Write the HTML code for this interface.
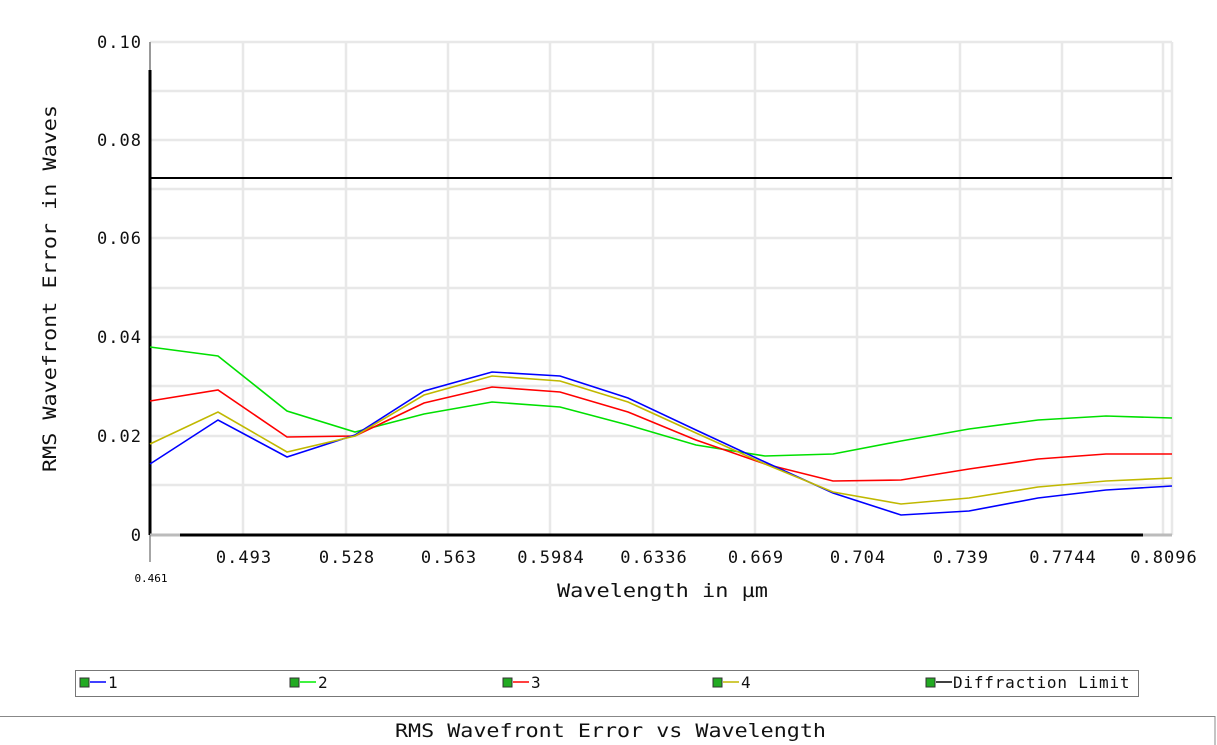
<!DOCTYPE html><html><head><style>body{margin:0;background:#fff}svg{display:block}text{font-family:"DejaVu Sans Mono","Liberation Mono",monospace}</style></head><body>
<svg width="1217" height="745" xmlns="http://www.w3.org/2000/svg">
<g stroke="#e8e8e8" stroke-width="2.5">
<line x1="150" y1="42" x2="1172" y2="42"/><line x1="150" y1="91" x2="1172" y2="91"/><line x1="150" y1="140" x2="1172" y2="140"/><line x1="150" y1="189" x2="1172" y2="189"/><line x1="150" y1="238" x2="1172" y2="238"/><line x1="150" y1="288" x2="1172" y2="288"/><line x1="150" y1="337" x2="1172" y2="337"/><line x1="150" y1="386" x2="1172" y2="386"/><line x1="150" y1="436" x2="1172" y2="436"/><line x1="150" y1="485" x2="1172" y2="485"/>
<line x1="243" y1="42" x2="243" y2="535"/><line x1="346" y1="42" x2="346" y2="535"/><line x1="448" y1="42" x2="448" y2="535"/><line x1="550" y1="42" x2="550" y2="535"/><line x1="653" y1="42" x2="653" y2="535"/><line x1="755" y1="42" x2="755" y2="535"/><line x1="857" y1="42" x2="857" y2="535"/><line x1="960" y1="42" x2="960" y2="535"/><line x1="1062" y1="42" x2="1062" y2="535"/><line x1="1163" y1="42" x2="1163" y2="535"/><line x1="1172" y1="42" x2="1172" y2="535"/>
</g>
<line x1="150" y1="70" x2="150" y2="535" stroke="#000" stroke-width="3"/>
<line x1="150" y1="42" x2="150" y2="70" stroke="#999" stroke-width="2"/>
<line x1="180" y1="535" x2="1143" y2="535" stroke="#000" stroke-width="3"/>
<line x1="150" y1="535" x2="180" y2="535" stroke="#bbb" stroke-width="3"/>
<line x1="1143" y1="535" x2="1172" y2="535" stroke="#bbb" stroke-width="3"/>
<line x1="150" y1="535" x2="150" y2="562" stroke="#888" stroke-width="1.5"/>
<line x1="150" y1="178" x2="1172" y2="178" stroke="#000" stroke-width="2"/>
<g fill="none" stroke-width="1.6">
<polyline stroke="#00e000" points="150,347 218,356 287,411 355,432 424,414 492,402 560,407 628,425 696,445 765,456 833,454 901,441 969,429 1038,420 1106,416 1172,418"/>
<polyline stroke="#ff0000" points="150,401 218,390 287,437 355,436 424,403 492,387 560,392 628,412 696,440 765,464 833,481 901,480 969,469 1038,459 1106,454 1172,454"/>
<polyline stroke="#0000ff" points="150,464 218,420 287,457 355,435 424,391 492,372 560,376 628,398 696,430 765,462 833,493 901,515 969,511 1038,498 1106,490 1172,486"/>
<polyline stroke="#c0b800" points="150,444 218,412 287,452 355,436 424,395 492,376 560,381 628,402 696,433 765,464 833,492 901,504 969,498 1038,487 1106,481 1172,478"/>
</g>
<g font-size="17" fill="#111" text-anchor="end" letter-spacing="1">
<text x="142" y="48">0.10</text><text x="142" y="146">0.08</text><text x="142" y="244">0.06</text><text x="142" y="343">0.04</text><text x="142" y="442">0.02</text><text x="142" y="541">0</text>
</g>
<g font-size="17" fill="#111" text-anchor="middle" letter-spacing="1">
<text x="244" y="563">0.493</text><text x="347" y="563">0.528</text><text x="449" y="563">0.563</text><text x="551" y="563">0.5984</text><text x="654" y="563">0.6336</text><text x="756" y="563">0.669</text><text x="858" y="563">0.704</text><text x="961" y="563">0.739</text><text x="1063" y="563">0.7744</text><text x="1164" y="563">0.8096</text>
</g>
<text x="557" y="597" font-size="19" fill="#111" textLength="211" lengthAdjust="spacingAndGlyphs">Wavelength in µm</text>
<text x="151" y="582" font-size="11" text-anchor="middle" font-family="Liberation Serif,serif">0.461</text>
<text transform="translate(56,472) rotate(-90)" font-size="19" fill="#111" textLength="367" lengthAdjust="spacingAndGlyphs">RMS Wavefront Error in Waves</text>
<rect x="75.5" y="670.5" width="1063" height="26" fill="#fff" stroke="#777"/>
<g font-size="16" fill="#111" letter-spacing="0.8">
<rect x="80" y="678" width="9" height="9" fill="#2a2" stroke="#333"/><line x1="90" y1="682" x2="106" y2="682" stroke="#00f" stroke-width="1.5"/><text x="108" y="688">1</text>
<rect x="290" y="678" width="9" height="9" fill="#2a2" stroke="#333"/><line x1="300" y1="682" x2="316" y2="682" stroke="#0e0" stroke-width="1.5"/><text x="318" y="688">2</text>
<rect x="503" y="678" width="9" height="9" fill="#2a2" stroke="#333"/><line x1="513" y1="682" x2="529" y2="682" stroke="#f00" stroke-width="1.5"/><text x="531" y="688">3</text>
<rect x="713" y="678" width="9" height="9" fill="#2a2" stroke="#333"/><line x1="723" y1="682" x2="739" y2="682" stroke="#c0b800" stroke-width="1.5"/><text x="741" y="688">4</text>
<rect x="926" y="678" width="9" height="9" fill="#2a2" stroke="#333"/><line x1="936" y1="682" x2="952" y2="682" stroke="#000" stroke-width="1.5"/><text x="953" y="688">Diffraction Limit</text>
</g>
<rect x="-1" y="716.5" width="1216" height="40" fill="#fff" stroke="#888"/>
<text x="395" y="737" font-size="19" fill="#111" textLength="431" lengthAdjust="spacingAndGlyphs">RMS Wavefront Error vs Wavelength</text>
</svg></body></html>
